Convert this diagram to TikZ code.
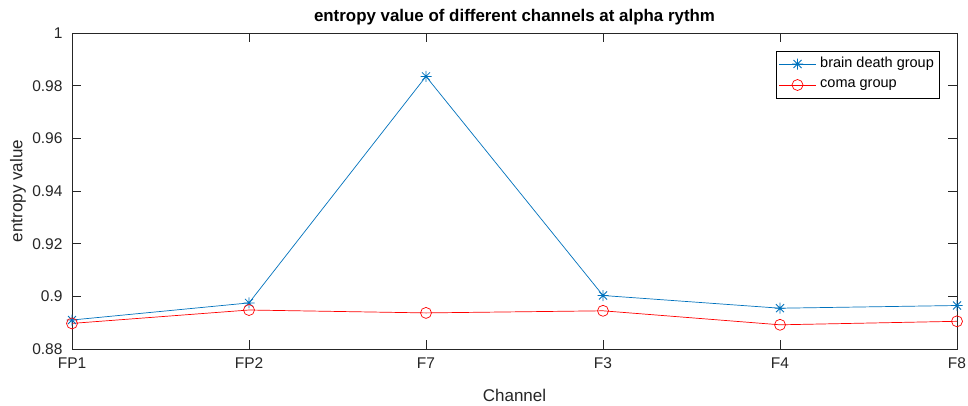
\documentclass[tikz,border=0pt]{standalone}
\usepackage{fontspec}
\setmainfont{Liberation Sans}
\definecolor{mblue}{RGB}{0,114,189}
\definecolor{axc}{RGB}{38,38,38}
\begin{document}
\begin{tikzpicture}[x=1pt,y=-1pt,
  axline/.style={draw=axc,line width=0.8pt},
  tickl/.style={text=axc,font=\fontsize{15.5}{17}\selectfont},
  bl/.style={draw=mblue,line width=0.7pt},
  rl/.style={draw=red,line width=0.7pt},
  starm/.pic={\draw[mblue,line width=0.8pt] (-5.5,0)--(5.5,0) (0,-5.5)--(0,5.5) (-4,-4)--(4,4) (-4,4)--(4,-4);},
  circm/.style={circle,draw=red,line width=0.7pt,minimum size=11pt,inner sep=0pt}]
\useasboundingbox (0,0) rectangle (968,405);
\fill[white] (0,0) rectangle (968,405);
% axes box
\coordinate (tl) at (72,33);
\coordinate (br) at (957,349);
\draw[axline] (tl) rectangle (br);
% y ticks
\foreach \v/\lab in {33/1,85.7/0.98,138.3/0.96,191/0.94,243.7/0.92,296.3/0.9,349/0.88}{
  \draw[axline] (72,\v) -- (81,\v);
  \draw[axline] (957,\v) -- (948,\v);
  \node[tickl,anchor=east] at (66,\v) {\lab};
}
% x ticks
\foreach \x/\lab in {72/FP1,249/FP2,426/F7,603/F3,780/F4,957/F8}{
  \draw[axline] (\x,349) -- (\x,340);
  \draw[axline] (\x,33) -- (\x,42);
  \node[tickl,anchor=north] at (\x,354) {\lab};
}
% labels
\node[font=\bfseries\fontsize{16.9}{18}\selectfont,text=black] (title) at (514.5,17) {entropy value of different channels at alpha rythm};
\node[text=axc,font=\fontsize{17}{19}\selectfont] (xlab) at (514.5,395) {Channel};
\node[text=axc,font=\fontsize{17}{19}\selectfont,rotate=90] (ylab) at (18,191) {entropy value};
% data
\coordinate (b1) at (72,320);
\coordinate (b2) at (249,302.9);
\coordinate (b3) at (426,76.4);
\coordinate (b4) at (603,295.5);
\coordinate (b5) at (780,308.2);
\coordinate (b6) at (957,305.5);
\coordinate (r1) at (72,323.4);
\coordinate (r2) at (249,310);
\coordinate (r3) at (426,312.9);
\coordinate (r4) at (603,310.8);
\coordinate (r5) at (780,324.8);
\coordinate (r6) at (957,321.3);
\draw[bl] (b1)--(b2)--(b3)--(b4)--(b5)--(b6);
\draw[rl] (r1)--(r2)--(r3)--(r4)--(r5)--(r6);
\foreach \p in {b1,b2,b3,b4,b5,b6}{\pic at (\p) {starm};}
\foreach \p in {r1,r2,r3,r4,r5,r6}{\node[circm] at (\p) {};}
% legend
\draw[draw=black,fill=white,line width=0.7pt] (776,51) rectangle (939,98);
\coordinate (la) at (779,64);
\coordinate (lb) at (816,64);
\coordinate (lc) at (779,85);
\coordinate (ld) at (816,85);
\draw[bl] (la)--(lb);
\pic at (797.5,64) {starm};
\draw[rl] (lc)--(ld);
\node[circm] (lcirc) at (797.5,85) {};
\node[anchor=west,text=black,font=\fontsize{14.5}{16}\selectfont,inner sep=0pt] (l1) at (820,64) {brain death group};
\node[anchor=west,text=black,font=\fontsize{14.5}{16}\selectfont,inner sep=0pt] (l2) at (820,85) {coma group};
\end{tikzpicture}
\end{document}
